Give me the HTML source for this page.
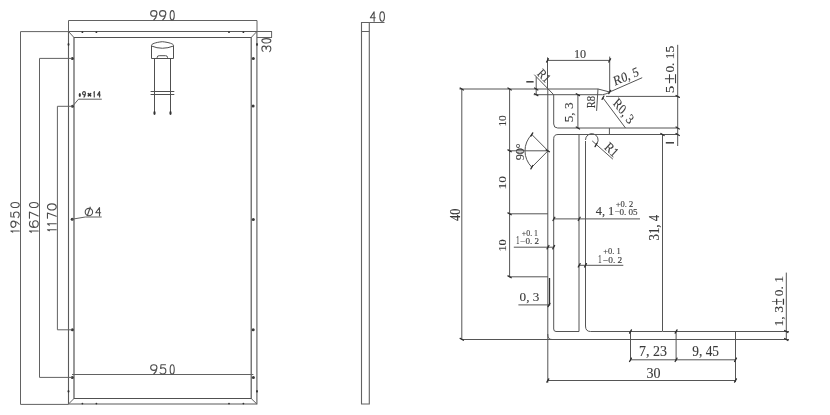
<!DOCTYPE html>
<html><head><meta charset="utf-8"><style>
html,body{margin:0;padding:0;background:#fff;width:830px;height:415px;overflow:hidden}
svg{display:block;will-change:transform}
</style></head><body>
<svg width="830" height="415" viewBox="0 0 830 415">
<rect width="830" height="415" fill="#fff"/>
<g>
<line x1="68.5" y1="20.5" x2="257" y2="20.5" stroke="#626262" stroke-width="1.0"/>
<line x1="68.5" y1="20.5" x2="68.5" y2="31.5" stroke="#626262" stroke-width="1.0"/>
<line x1="257" y1="20.5" x2="257" y2="31.5" stroke="#626262" stroke-width="1.0"/>
<path d="M3.6 0 C5.6 0 7.2 1.3 7.2 3 C7.2 4.7 5.6 6 3.6 6 C1.6 6 0 4.7 0 3 C0 1.3 1.6 0 3.6 0 Z M7.1 3.6 C6.8 6.5 5.3 8.7 3.6 10" transform="translate(150.65 10.65) scale(0.8750 0.9300)" fill="none" stroke="#4c4c4c" stroke-width="1.1" vector-effect="non-scaling-stroke" stroke-linecap="round" stroke-linejoin="round"/>
<path d="M3.6 0 C5.6 0 7.2 1.3 7.2 3 C7.2 4.7 5.6 6 3.6 6 C1.6 6 0 4.7 0 3 C0 1.3 1.6 0 3.6 0 Z M7.1 3.6 C6.8 6.5 5.3 8.7 3.6 10" transform="translate(159.55 10.65) scale(0.8750 0.9300)" fill="none" stroke="#4c4c4c" stroke-width="1.1" vector-effect="non-scaling-stroke" stroke-linecap="round" stroke-linejoin="round"/>
<path d="M2.6 0 C4.3 0 5.2 2.4 5.2 5 C5.2 7.6 4.3 10 2.6 10 C0.9 10 0 7.6 0 5 C0 2.4 0.9 0 2.6 0 Z" transform="translate(170.15 10.65) scale(0.7885 0.9300)" fill="none" stroke="#4c4c4c" stroke-width="1.1" vector-effect="non-scaling-stroke" stroke-linecap="round" stroke-linejoin="round"/>
<path d="M68.5 31.5 H256.9 V404 H68.5 Z" stroke="#5a5a5a" stroke-width="1.1" fill="none" />
<path d="M74 37.5 H251.2 V398.5 H74 Z" stroke="#505050" stroke-width="1.15" fill="none" />
<line x1="68.5" y1="31.5" x2="74" y2="37.5" stroke="#626262" stroke-width="1.0"/>
<line x1="256.9" y1="31.5" x2="251.2" y2="37.5" stroke="#626262" stroke-width="1.0"/>
<line x1="68.5" y1="404" x2="74" y2="398.5" stroke="#626262" stroke-width="1.0"/>
<line x1="256.9" y1="404" x2="251.2" y2="398.5" stroke="#626262" stroke-width="1.0"/>
<line x1="257" y1="31.5" x2="272" y2="31.5" stroke="#626262" stroke-width="1.0"/>
<line x1="257" y1="37.5" x2="272" y2="37.5" stroke="#626262" stroke-width="1.0"/>
<line x1="271.6" y1="31.5" x2="271.6" y2="37.5" stroke="#626262" stroke-width="1.0"/>
<path d="M0.3 1.3 C0.9 0.4 1.9 0 3 0 C4.7 0 5.8 1 5.8 2.5 C5.8 4 4.6 4.8 2.6 4.8 C4.9 4.8 6 6 6 7.4 C6 9 4.8 10 3 10 C1.8 10 0.7 9.5 0 8.7" transform="translate(261.85 51.65) rotate(-90) scale(0.9500 0.9000)" fill="none" stroke="#4c4c4c" stroke-width="1.1" vector-effect="non-scaling-stroke" stroke-linecap="round" stroke-linejoin="round"/>
<path d="M2.6 0 C4.3 0 5.2 2.4 5.2 5 C5.2 7.6 4.3 10 2.6 10 C0.9 10 0 7.6 0 5 C0 2.4 0.9 0 2.6 0 Z" transform="translate(261.85 42.95) rotate(-90) scale(0.8269 0.9000)" fill="none" stroke="#4c4c4c" stroke-width="1.1" vector-effect="non-scaling-stroke" stroke-linecap="round" stroke-linejoin="round"/>
<circle cx="82.4" cy="32.2" r="0.9" fill="#333"/>
<circle cx="82.4" cy="403.6" r="0.9" fill="#333"/>
<circle cx="96.4" cy="32.2" r="0.9" fill="#333"/>
<circle cx="96.4" cy="403.6" r="0.9" fill="#333"/>
<circle cx="229" cy="32.2" r="0.9" fill="#333"/>
<circle cx="229" cy="403.6" r="0.9" fill="#333"/>
<circle cx="243.4" cy="32.2" r="0.9" fill="#333"/>
<circle cx="243.4" cy="403.6" r="0.9" fill="#333"/>
<ellipse cx="68.5" cy="44.5" rx="0.9" ry="1.4" fill="#333"/>
<ellipse cx="257" cy="44.5" rx="0.9" ry="1.4" fill="#333"/>
<ellipse cx="68.5" cy="391.3" rx="0.9" ry="1.4" fill="#333"/>
<ellipse cx="257" cy="391.3" rx="0.9" ry="1.4" fill="#333"/>
<circle cx="72.4" cy="58.4" r="1.5" fill="#3a3a3a"/>
<circle cx="253.3" cy="58.5" r="1.5" fill="#3a3a3a"/>
<circle cx="72.5" cy="106.3" r="1.5" fill="#3a3a3a"/>
<circle cx="253.1" cy="106.1" r="1.5" fill="#3a3a3a"/>
<circle cx="72.2" cy="219.2" r="1.5" fill="#3a3a3a"/>
<circle cx="253.3" cy="219.5" r="1.5" fill="#3a3a3a"/>
<circle cx="72.4" cy="329.8" r="1.5" fill="#3a3a3a"/>
<circle cx="253.2" cy="329.8" r="1.5" fill="#3a3a3a"/>
<circle cx="72.3" cy="377.4" r="1.5" fill="#3a3a3a"/>
<circle cx="253.4" cy="377.4" r="1.5" fill="#3a3a3a"/>
<line x1="20.5" y1="31.6" x2="20.5" y2="404.4" stroke="#626262" stroke-width="1.0"/>
<line x1="20.5" y1="31.6" x2="68.5" y2="31.6" stroke="#626262" stroke-width="1.0"/>
<line x1="20.5" y1="404.4" x2="68.5" y2="404.4" stroke="#626262" stroke-width="1.0"/>
<path d="M2.2 0 V10 M2.2 0 L0 2.2" transform="translate(10.85 232.15) rotate(-90) scale(0.5000 0.8400)" fill="none" stroke="#4c4c4c" stroke-width="1.1" vector-effect="non-scaling-stroke" stroke-linecap="round" stroke-linejoin="round"/>
<path d="M3.6 0 C5.6 0 7.2 1.3 7.2 3 C7.2 4.7 5.6 6 3.6 6 C1.6 6 0 4.7 0 3 C0 1.3 1.6 0 3.6 0 Z M7.1 3.6 C6.8 6.5 5.3 8.7 3.6 10" transform="translate(10.85 227.35) rotate(-90) scale(0.8611 0.8400)" fill="none" stroke="#4c4c4c" stroke-width="1.1" vector-effect="non-scaling-stroke" stroke-linecap="round" stroke-linejoin="round"/>
<path d="M6.4 0 H1.1 L0.7 4.1 C1.6 3.5 2.7 3.2 3.7 3.2 C5.6 3.2 6.8 4.6 6.8 6.5 C6.8 8.6 5.4 10 3.4 10 C2 10 0.8 9.5 0 8.6" transform="translate(10.85 217.65) rotate(-90) scale(0.8235 0.8400)" fill="none" stroke="#4c4c4c" stroke-width="1.1" vector-effect="non-scaling-stroke" stroke-linecap="round" stroke-linejoin="round"/>
<path d="M2.6 0 C4.3 0 5.2 2.4 5.2 5 C5.2 7.6 4.3 10 2.6 10 C0.9 10 0 7.6 0 5 C0 2.4 0.9 0 2.6 0 Z" transform="translate(10.85 207.55) rotate(-90) scale(0.9808 0.8400)" fill="none" stroke="#4c4c4c" stroke-width="1.1" vector-effect="non-scaling-stroke" stroke-linecap="round" stroke-linejoin="round"/>
<line x1="39.5" y1="58.4" x2="39.5" y2="377.4" stroke="#626262" stroke-width="1.0"/>
<line x1="39.5" y1="58.4" x2="72" y2="58.4" stroke="#626262" stroke-width="1.0"/>
<line x1="39.5" y1="377.4" x2="72" y2="377.4" stroke="#626262" stroke-width="1.0"/>
<path d="M2.2 0 V10 M2.2 0 L0 2.2" transform="translate(29.45 232.15) rotate(-90) scale(0.5000 0.8800)" fill="none" stroke="#4c4c4c" stroke-width="1.1" vector-effect="non-scaling-stroke" stroke-linecap="round" stroke-linejoin="round"/>
<path d="M5.8 0.9 C5.1 0.3 4.2 0 3.3 0 C1.2 0 0 2.4 0 5.4 C0 8.3 1.2 10 3.3 10 C5.2 10 6.4 8.6 6.4 6.7 C6.4 4.8 5.2 3.6 3.4 3.6 C1.8 3.6 0.5 4.6 0 6" transform="translate(29.45 227.35) rotate(-90) scale(1.0313 0.8800)" fill="none" stroke="#4c4c4c" stroke-width="1.1" vector-effect="non-scaling-stroke" stroke-linecap="round" stroke-linejoin="round"/>
<path d="M0 0 H6 L2.2 10" transform="translate(29.45 218.15) rotate(-90) scale(1.0167 0.8800)" fill="none" stroke="#4c4c4c" stroke-width="1.1" vector-effect="non-scaling-stroke" stroke-linecap="round" stroke-linejoin="round"/>
<path d="M2.6 0 C4.3 0 5.2 2.4 5.2 5 C5.2 7.6 4.3 10 2.6 10 C0.9 10 0 7.6 0 5 C0 2.4 0.9 0 2.6 0 Z" transform="translate(29.45 207.55) rotate(-90) scale(0.9808 0.8800)" fill="none" stroke="#4c4c4c" stroke-width="1.1" vector-effect="non-scaling-stroke" stroke-linecap="round" stroke-linejoin="round"/>
<line x1="57.4" y1="106.3" x2="57.4" y2="329.8" stroke="#626262" stroke-width="1.0"/>
<line x1="57.4" y1="106.3" x2="72" y2="106.3" stroke="#626262" stroke-width="1.0"/>
<line x1="57.4" y1="329.8" x2="72" y2="329.8" stroke="#626262" stroke-width="1.0"/>
<path d="M2.2 0 V10 M2.2 0 L0 2.2" transform="translate(47.45 230.75) rotate(-90) scale(0.4615 0.8800)" fill="none" stroke="#4c4c4c" stroke-width="1.1" vector-effect="non-scaling-stroke" stroke-linecap="round" stroke-linejoin="round"/>
<path d="M2.2 0 V10 M2.2 0 L0 2.2" transform="translate(47.45 225.25) rotate(-90) scale(0.6538 0.8800)" fill="none" stroke="#4c4c4c" stroke-width="1.1" vector-effect="non-scaling-stroke" stroke-linecap="round" stroke-linejoin="round"/>
<path d="M0 0 H6 L2.2 10" transform="translate(47.45 218.15) rotate(-90) scale(0.8500 0.8800)" fill="none" stroke="#4c4c4c" stroke-width="1.1" vector-effect="non-scaling-stroke" stroke-linecap="round" stroke-linejoin="round"/>
<path d="M2.6 0 C4.3 0 5.2 2.4 5.2 5 C5.2 7.6 4.3 10 2.6 10 C0.9 10 0 7.6 0 5 C0 2.4 0.9 0 2.6 0 Z" transform="translate(47.45 209.95) rotate(-90) scale(1.1731 0.8800)" fill="none" stroke="#4c4c4c" stroke-width="1.1" vector-effect="non-scaling-stroke" stroke-linecap="round" stroke-linejoin="round"/>
<path d="M72.5 106.3 L78.5 99.2 H101.8" stroke="#626262" stroke-width="1.0" fill="none" />
<ellipse cx="79.8" cy="94.9" rx="1.1" ry="2.0" fill="#333"/>
<path d="M3.6 0 C5.6 0 7.2 1.3 7.2 3 C7.2 4.7 5.6 6 3.6 6 C1.6 6 0 4.7 0 3 C0 1.3 1.6 0 3.6 0 Z M7.1 3.6 C6.8 6.5 5.3 8.7 3.6 10" transform="translate(82.58 91.67) scale(0.3958 0.5350)" fill="none" stroke="#404040" stroke-width="1.15" vector-effect="non-scaling-stroke" stroke-linecap="round" stroke-linejoin="round"/>
<path d="M2.2 0 V10 M2.2 0 L0 2.2" transform="translate(93.88 91.67) scale(0.1731 0.5350)" fill="none" stroke="#404040" stroke-width="1.15" vector-effect="non-scaling-stroke" stroke-linecap="round" stroke-linejoin="round"/>
<path d="M4.6 10 V0 L0 6.3 H6" transform="translate(97.48 91.67) scale(0.4583 0.5350)" fill="none" stroke="#404040" stroke-width="1.15" vector-effect="non-scaling-stroke" stroke-linecap="round" stroke-linejoin="round"/>
<path d="M0.3 3.6 L4.3 8 M4.3 3.6 L0.3 8" transform="translate(88.05 91.85) scale(0.6087 0.5000)" fill="none" stroke="#333" stroke-width="1.5" vector-effect="non-scaling-stroke" stroke-linecap="round" stroke-linejoin="round"/>
<path d="M72.2 219.2 L85.3 217 H101.7" stroke="#626262" stroke-width="1.0" fill="none" />
<circle cx="88.9" cy="212.1" r="3.7" fill="none" stroke="#4c4c4c" stroke-width="1.1"/>
<line x1="90.4" y1="206.8" x2="87.2" y2="216" stroke="#4c4c4c" stroke-width="1.1"/>
<path d="M4.6 10 V0 L0 6.3 H6" transform="translate(95.75 207.55) scale(0.8167 0.8300)" fill="none" stroke="#4c4c4c" stroke-width="1.1" vector-effect="non-scaling-stroke" stroke-linecap="round" stroke-linejoin="round"/>
<line x1="72" y1="374.5" x2="253.4" y2="374.5" stroke="#626262" stroke-width="1.0"/>
<path d="M3.6 0 C5.6 0 7.2 1.3 7.2 3 C7.2 4.7 5.6 6 3.6 6 C1.6 6 0 4.7 0 3 C0 1.3 1.6 0 3.6 0 Z M7.1 3.6 C6.8 6.5 5.3 8.7 3.6 10" transform="translate(150.65 364.75) scale(0.8750 0.9300)" fill="none" stroke="#4c4c4c" stroke-width="1.1" vector-effect="non-scaling-stroke" stroke-linecap="round" stroke-linejoin="round"/>
<path d="M6.4 0 H1.1 L0.7 4.1 C1.6 3.5 2.7 3.2 3.7 3.2 C5.6 3.2 6.8 4.6 6.8 6.5 C6.8 8.6 5.4 10 3.4 10 C2 10 0.8 9.5 0 8.6" transform="translate(160.05 364.75) scale(0.8529 0.9300)" fill="none" stroke="#4c4c4c" stroke-width="1.1" vector-effect="non-scaling-stroke" stroke-linecap="round" stroke-linejoin="round"/>
<path d="M2.6 0 C4.3 0 5.2 2.4 5.2 5 C5.2 7.6 4.3 10 2.6 10 C0.9 10 0 7.6 0 5 C0 2.4 0.9 0 2.6 0 Z" transform="translate(170.15 364.75) scale(0.7885 0.9300)" fill="none" stroke="#4c4c4c" stroke-width="1.1" vector-effect="non-scaling-stroke" stroke-linecap="round" stroke-linejoin="round"/>
<path d="M151.5 58.5 V45.5 C151 44.2 155 42.4 162.3 41.7 C169.6 42.4 174 44.2 173.5 45.5 V58.5 Z" stroke="#505050" stroke-width="1.0" fill="none" />
<path d="M151.5 46 Q162.3 50.5 173.5 46" stroke="#505050" stroke-width="1.0" fill="none" />
<path d="M157.2 58.5 V57.3 Q157.2 55.7 159.2 55.7 H165.6 Q167.5 55.7 167.5 57.3 V58.5" stroke="#505050" stroke-width="1.0" fill="none" />
<line x1="154.5" y1="58.5" x2="154.5" y2="112" stroke="#505050" stroke-width="1.0"/>
<line x1="170.5" y1="58.5" x2="170.5" y2="112" stroke="#505050" stroke-width="1.0"/>
<line x1="150.6" y1="91.5" x2="174.3" y2="91.5" stroke="#505050" stroke-width="1.0"/>
<line x1="150.6" y1="94.5" x2="174.3" y2="94.5" stroke="#505050" stroke-width="1.0"/>
<ellipse cx="154.5" cy="113" rx="1.1" ry="1.9" fill="#333"/>
<ellipse cx="170.5" cy="113" rx="1.1" ry="1.9" fill="#333"/>
<path d="M361.5 404 V22.5 H369.3 V404 Z" stroke="#626262" stroke-width="1.1" fill="none" />
<line x1="361.5" y1="31.5" x2="369.3" y2="31.5" stroke="#626262" stroke-width="1.0"/>
<line x1="369.3" y1="22.5" x2="384.5" y2="22.5" stroke="#626262" stroke-width="1.0"/>
<path d="M4.6 10 V0 L0 6.3 H6" transform="translate(370.35 11.85) scale(0.8167 0.9400)" fill="none" stroke="#4c4c4c" stroke-width="1.1" vector-effect="non-scaling-stroke" stroke-linecap="round" stroke-linejoin="round"/>
<path d="M2.6 0 C4.3 0 5.2 2.4 5.2 5 C5.2 7.6 4.3 10 2.6 10 C0.9 10 0 7.6 0 5 C0 2.4 0.9 0 2.6 0 Z" transform="translate(379.85 11.85) scale(0.8846 0.9400)" fill="none" stroke="#4c4c4c" stroke-width="1.1" vector-effect="non-scaling-stroke" stroke-linecap="round" stroke-linejoin="round"/>
<path d="M459.5 89 H598 L609.7 92" stroke="#555" stroke-width="1.0" fill="none" />
<path d="M533.7 94.7 H602.5 Q606 94.2 609.7 92.3" stroke="#555" stroke-width="1.0" fill="none" />
<line x1="606" y1="96.4" x2="677.6" y2="96.4" stroke="#555" stroke-width="1.0"/>
<line x1="547.5" y1="57.4" x2="547.5" y2="89" stroke="#555" stroke-width="1.0"/>
<line x1="609.7" y1="56.6" x2="609.7" y2="92" stroke="#555" stroke-width="1.0"/>
<line x1="547.5" y1="60.4" x2="609.7" y2="60.4" stroke="#555" stroke-width="1.0"/>
<text x="0" y="0" font-family="Liberation Serif" font-size="100" fill="#3a3a3a" stroke="#3a3a3a" stroke-width="0.12" vector-effect="non-scaling-stroke" transform="translate(575.05 49.25) scale(0.12184 0.13485) translate(-9 66)">10</text>
<line x1="534.3" y1="74.7" x2="553.7" y2="94.7" stroke="#555" stroke-width="1.0"/>
<text x="0" y="0" font-family="Liberation Serif" font-size="100" fill="#3a3a3a" stroke="#3a3a3a" stroke-width="0.12" vector-effect="non-scaling-stroke" transform="translate(544 75.6) rotate(45) skewX(0) scale(0.11111 0.13030) translate(-57.0 33.0)">R1</text>
<line x1="536.2" y1="76.9" x2="536.2" y2="94.7" stroke="#555" stroke-width="1.0"/>
<line x1="526.3" y1="81.8" x2="533.6" y2="81.8" stroke="#3a3a3a" stroke-width="1.5"/>
<line x1="609.7" y1="92" x2="642.2" y2="77.7" stroke="#555" stroke-width="1.0"/>
<text x="0" y="0" font-family="Liberation Serif" font-size="100" fill="#3a3a3a" stroke="#3a3a3a" stroke-width="0.12" vector-effect="non-scaling-stroke" transform="translate(626 76.4) rotate(-23) skewX(-8) scale(0.12381 0.13231) translate(-108.0 32.5)">R0, 5</text>
<line x1="461.8" y1="89" x2="461.8" y2="339.5" stroke="#555" stroke-width="1.0"/>
<text x="0" y="0" font-family="Liberation Serif" font-size="100" fill="#3a3a3a" stroke="#3a3a3a" stroke-width="0.12" vector-effect="non-scaling-stroke" transform="translate(450.65 220.65) rotate(-90) scale(0.12340 0.13846) translate(-2 65)">40</text>
<line x1="509.6" y1="89" x2="509.6" y2="276.8" stroke="#555" stroke-width="1.0"/>
<line x1="509.6" y1="150.8" x2="548" y2="150.8" stroke="#555" stroke-width="1.0"/>
<line x1="509.6" y1="213.8" x2="548" y2="213.8" stroke="#555" stroke-width="1.0"/>
<line x1="509.6" y1="276.8" x2="548" y2="276.8" stroke="#555" stroke-width="1.0"/>
<text x="0" y="0" font-family="Liberation Serif" font-size="100" fill="#3a3a3a" stroke="#3a3a3a" stroke-width="0.12" vector-effect="non-scaling-stroke" transform="translate(499.45 125.55) rotate(-90) scale(0.11379 0.10455) translate(-9 66)">10</text>
<text x="0" y="0" font-family="Liberation Serif" font-size="100" fill="#3a3a3a" stroke="#3a3a3a" stroke-width="0.12" vector-effect="non-scaling-stroke" transform="translate(499.55 188.35) rotate(-90) scale(0.13563 0.10152) translate(-9 66)">10</text>
<text x="0" y="0" font-family="Liberation Serif" font-size="100" fill="#3a3a3a" stroke="#3a3a3a" stroke-width="0.12" vector-effect="non-scaling-stroke" transform="translate(499.65 250.45) rotate(-90) scale(0.12299 0.10000) translate(-9 66)">10</text>
<path d="M547.8 89 V335 Q547.8 339.5 552 339.5 H789" stroke="#555" stroke-width="1.0" fill="none" />
<line x1="461.8" y1="339.5" x2="552" y2="339.5" stroke="#555" stroke-width="1.0"/>
<line x1="547.8" y1="334" x2="547.8" y2="382.7" stroke="#555" stroke-width="1.0"/>
<path d="M553.7 94.7 V124 Q553.7 128 557.7 128 H677.6" stroke="#555" stroke-width="1.0" fill="none" />
<line x1="577.9" y1="94.7" x2="577.9" y2="128" stroke="#555" stroke-width="1.0"/>
<text x="0" y="0" font-family="Liberation Serif" font-size="100" fill="#3a3a3a" stroke="#3a3a3a" stroke-width="0.12" vector-effect="non-scaling-stroke" transform="translate(565.65 121.45) rotate(-90) scale(0.13214 0.12000) translate(-6 65)">5, 3</text>
<path d="M553.7 329 V138.7 Q553.7 134.5 558 134.5 H677.6" stroke="#555" stroke-width="1.0" fill="none" />
<path d="M579 134.5 V331.5 H556 Q553.7 331.5 553.7 329" stroke="#555" stroke-width="1.0" fill="none" />
<path d="M585.5 141 V326 Q585.5 331.5 590.5 331.5 H662.5" stroke="#555" stroke-width="1.0" fill="none" />
<line x1="662.5" y1="134.5" x2="662.5" y2="331" stroke="#555" stroke-width="1.0"/>
<line x1="609.4" y1="128" x2="609.4" y2="134.5" stroke="#555" stroke-width="1.0"/>
<line x1="662.5" y1="331.5" x2="789" y2="331.5" stroke="#555" stroke-width="1.0"/>
<path d="M585.5 140 A6.3 6.3 0 1 1 597 143.5" stroke="#555" stroke-width="1.0" fill="none" />
<line x1="592.2" y1="140.9" x2="612.9" y2="159.2" stroke="#555" stroke-width="1.0"/>
<text x="0" y="0" font-family="Liberation Serif" font-size="100" fill="#3a3a3a" stroke="#3a3a3a" stroke-width="0.12" vector-effect="non-scaling-stroke" transform="translate(611.5 149.6) rotate(42) skewX(0) scale(0.12037 0.13636) translate(-57.0 33.0)">R1</text>
<line x1="598" y1="88.8" x2="596.6" y2="110.9" stroke="#555" stroke-width="1.0"/>
<text x="0" y="0" font-family="Liberation Serif" font-size="100" fill="#3a3a3a" stroke="#3a3a3a" stroke-width="0.12" vector-effect="non-scaling-stroke" transform="translate(586.45 108.05) rotate(-90) scale(0.10545 0.13385) translate(-3 65)">R8</text>
<line x1="602.8" y1="97.7" x2="625.5" y2="128" stroke="#555" stroke-width="1.0"/>
<text x="0" y="0" font-family="Liberation Serif" font-size="100" fill="#3a3a3a" stroke="#3a3a3a" stroke-width="0.12" vector-effect="non-scaling-stroke" transform="translate(623.5 110.8) rotate(52) skewX(12) scale(0.12381 0.13231) translate(-108.0 32.5)">R0, 3</text>
<line x1="677.7" y1="44.8" x2="677.7" y2="146" stroke="#555" stroke-width="1.0"/>
<text x="0" y="0" font-family="Liberation Serif" font-size="100" fill="#3a3a3a" stroke="#3a3a3a" stroke-width="0.12" vector-effect="non-scaling-stroke" transform="translate(666.45 92.25) rotate(-90) scale(0.15000 0.12308) translate(-6 65)">5</text>
<text x="0" y="0" font-family="Liberation Serif" font-size="100" fill="#3a3a3a" stroke="#3a3a3a" stroke-width="0.12" vector-effect="non-scaling-stroke" transform="translate(665.35 83.25) rotate(-90) scale(0.19149 0.18393) translate(-4 56)">±</text>
<text x="0" y="0" font-family="Liberation Serif" font-size="100" fill="#3a3a3a" stroke="#3a3a3a" stroke-width="0.12" vector-effect="non-scaling-stroke" transform="translate(666.45 72.05) rotate(-90) scale(0.13385 0.12121) translate(-4 66)">0. 15</text>
<line x1="665.8" y1="142.8" x2="674" y2="142.8" stroke="#3a3a3a" stroke-width="1.5"/>
<line x1="553.7" y1="218.9" x2="640" y2="218.9" stroke="#555" stroke-width="1.0"/>
<text x="0" y="0" font-family="Liberation Serif" font-size="100" fill="#3a3a3a" stroke="#3a3a3a" stroke-width="0.12" vector-effect="non-scaling-stroke" transform="translate(595.95 206.65) scale(0.12394 0.12879) translate(-2 66)">4, 1</text>
<text x="0" y="0" font-family="Liberation Serif" font-size="100" fill="#3a3a3a" stroke="#3a3a3a" stroke-width="0.12" vector-effect="non-scaling-stroke" transform="translate(616.15 201.65) scale(0.08469 0.07538) translate(-5 65)">+0. 2</text>
<text x="0" y="0" font-family="Liberation Serif" font-size="100" fill="#3a3a3a" stroke="#3a3a3a" stroke-width="0.12" vector-effect="non-scaling-stroke" transform="translate(614.85 209.25) scale(0.09073 0.09077) translate(-5 65)">−0. 05</text>
<line x1="579" y1="265.3" x2="623.3" y2="265.3" stroke="#555" stroke-width="1.0"/>
<text x="0" y="0" font-family="Liberation Serif" font-size="100" fill="#3a3a3a" stroke="#3a3a3a" stroke-width="0.12" vector-effect="non-scaling-stroke" transform="translate(598.95 254.75) scale(0.06571 0.11818) translate(-9 66)">1</text>
<text x="0" y="0" font-family="Liberation Serif" font-size="100" fill="#3a3a3a" stroke="#3a3a3a" stroke-width="0.12" vector-effect="non-scaling-stroke" transform="translate(603.75 248.45) scale(0.08462 0.08485) translate(-5 66)">+0. 1</text>
<text x="0" y="0" font-family="Liberation Serif" font-size="100" fill="#3a3a3a" stroke="#3a3a3a" stroke-width="0.12" vector-effect="non-scaling-stroke" transform="translate(603.45 257.25) scale(0.09337 0.08154) translate(-5 65)">−0. 2</text>
<line x1="513.8" y1="247.2" x2="553.7" y2="247.2" stroke="#555" stroke-width="1.0"/>
<text x="0" y="0" font-family="Liberation Serif" font-size="100" fill="#3a3a3a" stroke="#3a3a3a" stroke-width="0.12" vector-effect="non-scaling-stroke" transform="translate(516.75 236.45) scale(0.06286 0.12121) translate(-9 66)">1</text>
<text x="0" y="0" font-family="Liberation Serif" font-size="100" fill="#3a3a3a" stroke="#3a3a3a" stroke-width="0.12" vector-effect="non-scaling-stroke" transform="translate(522.25 230.65) scale(0.07795 0.08636) translate(-5 66)">+0. 1</text>
<text x="0" y="0" font-family="Liberation Serif" font-size="100" fill="#3a3a3a" stroke="#3a3a3a" stroke-width="0.12" vector-effect="non-scaling-stroke" transform="translate(520.75 239.05) scale(0.09082 0.08308) translate(-5 65)">−0. 2</text>
<text x="0" y="0" font-family="Liberation Serif" font-size="100" fill="#3a3a3a" stroke="#3a3a3a" stroke-width="0.12" vector-effect="non-scaling-stroke" transform="translate(649.55 239.85) rotate(-90) scale(0.12798 0.14545) translate(-5 66)">31, 4</text>
<line x1="548" y1="150.8" x2="531.8" y2="134.5" stroke="#555" stroke-width="1.0"/>
<line x1="548" y1="150.8" x2="531.8" y2="167.2" stroke="#555" stroke-width="1.0"/>
<path d="M531.8 134.5 A23 23 0 0 0 531.8 167.2" stroke="#555" stroke-width="1.0" fill="none" />
<text x="0" y="0" font-family="Liberation Serif" font-size="100" fill="#3a3a3a" stroke="#3a3a3a" stroke-width="0.12" vector-effect="non-scaling-stroke" transform="translate(515.35 159.95) rotate(-90) scale(0.12197 0.12727) translate(-3 66)">90°</text>
<line x1="549.5" y1="278" x2="549.5" y2="305.5" stroke="#333" stroke-width="1.3"/>
<line x1="518.4" y1="304.9" x2="549" y2="304.9" stroke="#555" stroke-width="1.0"/>
<text x="0" y="0" font-family="Liberation Serif" font-size="100" fill="#3a3a3a" stroke="#3a3a3a" stroke-width="0.12" vector-effect="non-scaling-stroke" transform="translate(520.15 292.75) scale(0.13169 0.13077) translate(-4 65)">0, 3</text>
<line x1="630.5" y1="331.5" x2="630.5" y2="360.7" stroke="#555" stroke-width="1.0"/>
<line x1="676.1" y1="331.5" x2="676.1" y2="360.7" stroke="#555" stroke-width="1.0"/>
<line x1="735.5" y1="331.5" x2="735.5" y2="382" stroke="#555" stroke-width="1.0"/>
<line x1="630.5" y1="359.8" x2="735.5" y2="359.8" stroke="#555" stroke-width="1.0"/>
<text x="0" y="0" font-family="Liberation Serif" font-size="100" fill="#3a3a3a" stroke="#3a3a3a" stroke-width="0.12" vector-effect="non-scaling-stroke" transform="translate(640.05 346.95) scale(0.13968 0.14615) translate(-7 65)">7, 23</text>
<text x="0" y="0" font-family="Liberation Serif" font-size="100" fill="#3a3a3a" stroke="#3a3a3a" stroke-width="0.12" vector-effect="non-scaling-stroke" transform="translate(692.75 346.95) scale(0.13316 0.14615) translate(-3 65)">9, 45</text>
<line x1="547.8" y1="380.5" x2="735.5" y2="380.5" stroke="#555" stroke-width="1.0"/>
<text x="0" y="0" font-family="Liberation Serif" font-size="100" fill="#3a3a3a" stroke="#3a3a3a" stroke-width="0.12" vector-effect="non-scaling-stroke" transform="translate(647.15 369.35) scale(0.14066 0.13538) translate(-5 65)">30</text>
<line x1="786.3" y1="272.6" x2="786.3" y2="339.5" stroke="#555" stroke-width="1.0"/>
<text x="0" y="0" font-family="Liberation Serif" font-size="100" fill="#3a3a3a" stroke="#3a3a3a" stroke-width="0.12" vector-effect="non-scaling-stroke" transform="translate(774.85 325.25) rotate(-90) scale(0.13723 0.12121) translate(-9 66)">1, 3</text>
<text x="0" y="0" font-family="Liberation Serif" font-size="100" fill="#3a3a3a" stroke="#3a3a3a" stroke-width="0.12" vector-effect="non-scaling-stroke" transform="translate(772.85 304.85) rotate(-90) scale(0.12979 0.20000) translate(-4 56)">±</text>
<text x="0" y="0" font-family="Liberation Serif" font-size="100" fill="#3a3a3a" stroke="#3a3a3a" stroke-width="0.12" vector-effect="non-scaling-stroke" transform="translate(774.85 295.65) rotate(-90) scale(0.13429 0.12121) translate(-4 66)">0. 1</text>
<line x1="546.55" y1="62.05" x2="548.45" y2="58.75" stroke="#2e2e2e" stroke-width="1.3" stroke-linecap="round"/>
<line x1="608.75" y1="62.05" x2="610.65" y2="58.75" stroke="#2e2e2e" stroke-width="1.3" stroke-linecap="round"/>
<line x1="552.95" y1="220.55" x2="554.85" y2="217.25" stroke="#2e2e2e" stroke-width="1.3" stroke-linecap="round"/>
<line x1="578.25" y1="220.55" x2="580.15" y2="217.25" stroke="#2e2e2e" stroke-width="1.3" stroke-linecap="round"/>
<line x1="578.25" y1="266.95" x2="580.15" y2="263.65" stroke="#2e2e2e" stroke-width="1.3" stroke-linecap="round"/>
<line x1="584.55" y1="266.95" x2="586.45" y2="263.65" stroke="#2e2e2e" stroke-width="1.3" stroke-linecap="round"/>
<line x1="547.05" y1="248.85" x2="548.95" y2="245.55" stroke="#2e2e2e" stroke-width="1.3" stroke-linecap="round"/>
<line x1="552.75" y1="248.85" x2="554.65" y2="245.55" stroke="#2e2e2e" stroke-width="1.3" stroke-linecap="round"/>
<line x1="548.05" y1="306.65" x2="549.95" y2="303.35" stroke="#2e2e2e" stroke-width="1.3" stroke-linecap="round"/>
<line x1="629.55" y1="361.45" x2="631.45" y2="358.15" stroke="#2e2e2e" stroke-width="1.3" stroke-linecap="round"/>
<line x1="675.15" y1="361.45" x2="677.05" y2="358.15" stroke="#2e2e2e" stroke-width="1.3" stroke-linecap="round"/>
<line x1="734.55" y1="361.45" x2="736.45" y2="358.15" stroke="#2e2e2e" stroke-width="1.3" stroke-linecap="round"/>
<line x1="546.85" y1="382.15" x2="548.75" y2="378.85" stroke="#2e2e2e" stroke-width="1.3" stroke-linecap="round"/>
<line x1="734.55" y1="382.15" x2="736.45" y2="378.85" stroke="#2e2e2e" stroke-width="1.3" stroke-linecap="round"/>
<line x1="629.55" y1="333.15" x2="631.45" y2="329.85" stroke="#2e2e2e" stroke-width="1.3" stroke-linecap="round"/>
<line x1="675.15" y1="333.15" x2="677.05" y2="329.85" stroke="#2e2e2e" stroke-width="1.3" stroke-linecap="round"/>
<line x1="608.75" y1="93.65" x2="610.65" y2="90.35" stroke="#2e2e2e" stroke-width="1.3" stroke-linecap="round"/>
<line x1="602.05" y1="99.35" x2="603.95" y2="96.05" stroke="#2e2e2e" stroke-width="1.3" stroke-linecap="round"/>
<line x1="595.05" y1="146.65" x2="596.95" y2="143.35" stroke="#2e2e2e" stroke-width="1.3" stroke-linecap="round"/>
<line x1="530.85" y1="136.15" x2="532.75" y2="132.85" stroke="#2e2e2e" stroke-width="1.3" stroke-linecap="round"/>
<line x1="530.85" y1="168.85" x2="532.75" y2="165.55" stroke="#2e2e2e" stroke-width="1.3" stroke-linecap="round"/>
<line x1="460.15" y1="88.05" x2="463.45" y2="89.95" stroke="#2e2e2e" stroke-width="1.3" stroke-linecap="round"/>
<line x1="460.15" y1="338.35" x2="463.45" y2="340.25" stroke="#2e2e2e" stroke-width="1.3" stroke-linecap="round"/>
<line x1="507.95" y1="88.05" x2="511.25" y2="89.95" stroke="#2e2e2e" stroke-width="1.3" stroke-linecap="round"/>
<line x1="507.95" y1="149.85" x2="511.25" y2="151.75" stroke="#2e2e2e" stroke-width="1.3" stroke-linecap="round"/>
<line x1="507.95" y1="212.85" x2="511.25" y2="214.75" stroke="#2e2e2e" stroke-width="1.3" stroke-linecap="round"/>
<line x1="507.95" y1="275.85" x2="511.25" y2="277.75" stroke="#2e2e2e" stroke-width="1.3" stroke-linecap="round"/>
<line x1="534.55" y1="88.05" x2="537.85" y2="89.95" stroke="#2e2e2e" stroke-width="1.3" stroke-linecap="round"/>
<line x1="534.55" y1="93.75" x2="537.85" y2="95.65" stroke="#2e2e2e" stroke-width="1.3" stroke-linecap="round"/>
<line x1="576.25" y1="93.75" x2="579.55" y2="95.65" stroke="#2e2e2e" stroke-width="1.3" stroke-linecap="round"/>
<line x1="576.25" y1="127.05" x2="579.55" y2="128.95" stroke="#2e2e2e" stroke-width="1.3" stroke-linecap="round"/>
<line x1="676.05" y1="95.45" x2="679.35" y2="97.35" stroke="#2e2e2e" stroke-width="1.3" stroke-linecap="round"/>
<line x1="676.05" y1="127.05" x2="679.35" y2="128.95" stroke="#2e2e2e" stroke-width="1.3" stroke-linecap="round"/>
<line x1="676.05" y1="133.55" x2="679.35" y2="135.45" stroke="#2e2e2e" stroke-width="1.3" stroke-linecap="round"/>
<line x1="784.65" y1="330.55" x2="787.95" y2="332.45" stroke="#2e2e2e" stroke-width="1.3" stroke-linecap="round"/>
<line x1="784.65" y1="338.55" x2="787.95" y2="340.45" stroke="#2e2e2e" stroke-width="1.3" stroke-linecap="round"/>
<line x1="660.85" y1="133.55" x2="664.15" y2="135.45" stroke="#2e2e2e" stroke-width="1.3" stroke-linecap="round"/>
<line x1="546.15" y1="149.85" x2="549.45" y2="151.75" stroke="#2e2e2e" stroke-width="1.3" stroke-linecap="round"/>
</g>
</svg>
</body></html>
